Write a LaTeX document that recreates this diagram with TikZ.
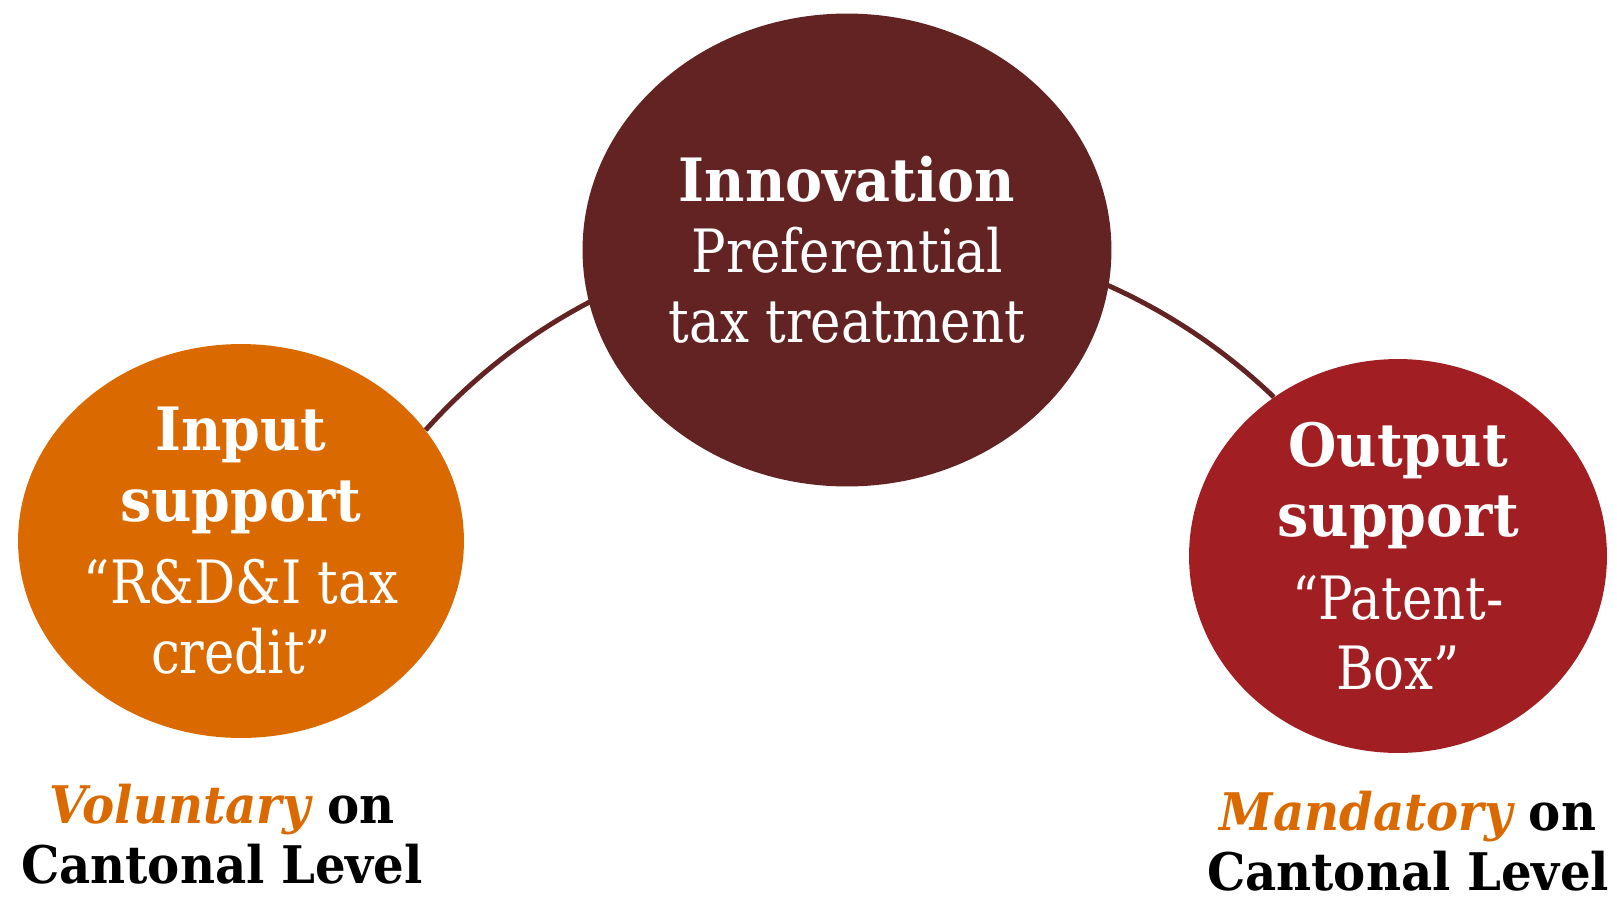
\documentclass[tikz,border=0pt]{standalone}
\usepackage{fontspec}
\setmainfont{DejaVu Serif}[FakeStretch=0.86,BoldFeatures={FakeStretch=0.93},BoldItalicFeatures={FakeStretch=0.93}]
\usetikzlibrary{shapes.geometric}
\definecolor{innovred}{HTML}{622322}
\definecolor{inputorange}{HTML}{DA6A00}
\definecolor{outputred}{HTML}{A11F22}
\pgfdeclarelayer{background}
\pgfsetlayers{background,main}

\begin{document}
\begin{tikzpicture} [
                x=0.02cm, y=-0.02cm,
                bubble/.style={ellipse,inner sep=0pt,text=white,align=center,font=\fontsize{34}{40}\selectfont},
                link/.style = {draw=innovred,line width=2.8pt},
                level/.style = {align=center,anchor=base,inner sep=0pt,font=\bfseries\fontsize{29.5}{34}\selectfont},
            ]
            \useasboundingbox (0,0) rectangle (1617,900);
            \node[bubble,fill=innovred,minimum width=10.58cm,minimum height=9.46cm] (innov) at (847,250)
                {\textbf{Innovation}\\Preferential\\tax treatment};
            \node[bubble,fill=inputorange,minimum width=8.92cm,minimum height=7.88cm] (inp) at (241,541)
                {\textbf{Input}\\\textbf{support}\\[7pt]“R\&D\&I tax\\credit”};
            \node[bubble,fill=outputred,minimum width=8.36cm,minimum height=7.88cm] (outp) at (1398,556)
                {\textbf{Output}\\\textbf{support}\\[7pt]“Patent-\\Box”};
            \begin{pgfonlayer}{background}
                \path[link] (inp.31) to[bend left=46] (outp.128);
            \end{pgfonlayer}
            \node[level] (volun) at (222,883) {\textcolor{inputorange}{\itshape Voluntary} on\\Cantonal Level};
            \node[level] (mand) at (1408,890) {\textcolor{inputorange}{\itshape Mandatory} on\\Cantonal Level};
        \end{tikzpicture}
\end{document}
